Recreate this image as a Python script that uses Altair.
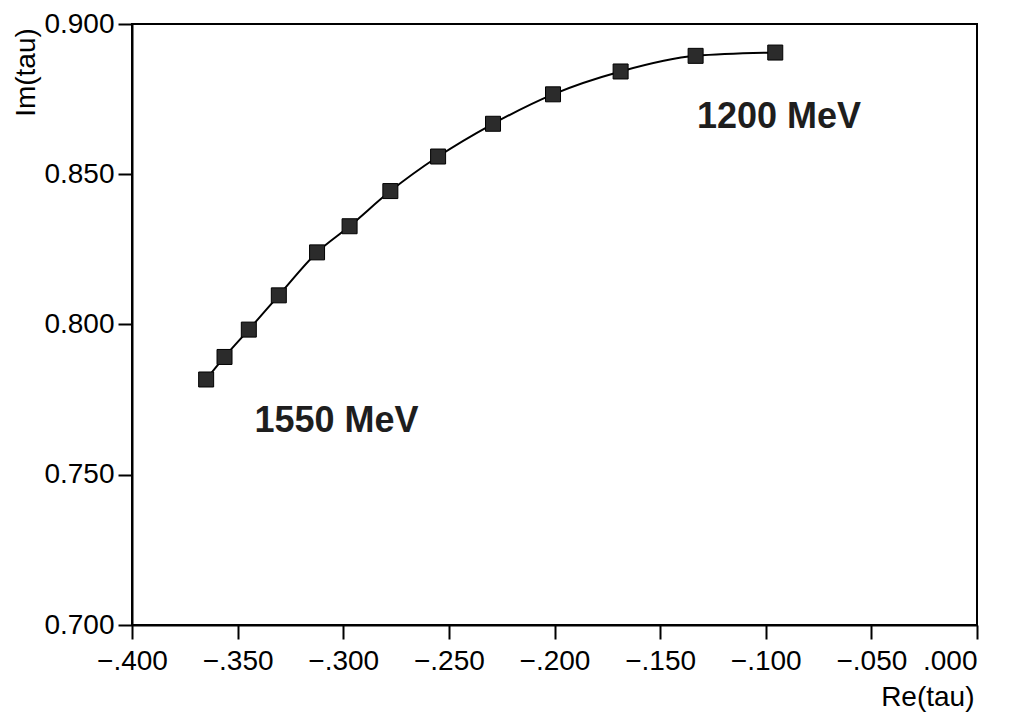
import altair as alt
import pandas as pd

# Data
re_tau = [-0.3649, -0.3562, -0.3447, -0.3305, -0.3124, -0.2970, -0.2777,
          -0.2551, -0.2291, -0.2007, -0.1687, -0.1332, -0.0955]
im_tau = [0.7817, 0.7892, 0.7983, 0.8097, 0.8240, 0.8327, 0.8444,
          0.8559, 0.8668, 0.8766, 0.8842, 0.8894, 0.8905]

label_text = ["1550 MeV", "1200 MeV"]
label_re = [-0.342, -0.1326]
label_im = [0.7678, 0.8692]

x_ticks = [-0.40, -0.35, -0.30, -0.25, -0.20, -0.15, -0.10, -0.05, 0.0]
x_tick_labels = ["\u2212.400", "\u2212.350", "\u2212.300", "\u2212.250", "\u2212.200",
                 "\u2212.150", "\u2212.100", "\u2212.050", ".000"]
y_ticks = [0.70, 0.75, 0.80, 0.85, 0.90]
y_tick_labels = ["0.700", "0.750", "0.800", "0.850", "0.900"]


def label_expr(values, labels):
    expr = "''"
    for v, l in reversed(list(zip(values, labels))):
        expr = f"abs(datum.value - ({v})) < 1e-6 ? '{l}' : ({expr})"
    return expr


df = pd.DataFrame({"re": re_tau, "im": im_tau})
lab = pd.DataFrame({"t": label_text, "re": label_re, "im": label_im})

FONT = "Liberation Sans"

x_enc = alt.X(
    "re:Q",
    scale=alt.Scale(domain=[-0.4, 0.0], nice=False, zero=False),
    axis=alt.Axis(
        values=x_ticks, labelExpr=label_expr(x_ticks, x_tick_labels),
        labelAlign={"condition": {"test": "abs(datum.value) < 1e-6", "value": "right"},
                    "value": "center"},
        labelPadding=8, labelOverlap=False, labelBound=False, labelFlush=False,
        title="Re(tau)", titleAlign="right", titleBaseline="middle",
        titleX=842, titleY=72, titleAngle=0,
    ),
)
y_enc = alt.Y(
    "im:Q",
    scale=alt.Scale(domain=[0.7, 0.9], nice=False, zero=False),
    axis=alt.Axis(
        values=y_ticks, labelExpr=label_expr(y_ticks, y_tick_labels),
        labelPadding=4, labelOverlap=False, labelBound=False, labelFlush=False,
        title="Im(tau)", titleAngle=270, titleAlign="center", titleBaseline="middle",
        titleX=-106, titleY=48,
    ),
)

line = alt.Chart(df).mark_line(color="black", strokeWidth=2, interpolate="monotone").encode(
    x=x_enc, y=y_enc
)
pts = alt.Chart(df).mark_square(
    size=225, filled=True, color="#2b2b2b", stroke="black", strokeWidth=1, opacity=1
).encode(x="re:Q", y="im:Q")

texts = alt.Chart(lab).mark_text(
    align="left", baseline="middle", font=FONT, fontSize=36, fontWeight="bold", color="#1e1e1e"
).encode(x="re:Q", y="im:Q", text="t:N")

chart = (
    alt.layer(line, pts, texts)
    .properties(
        width=845, height=601,
        autosize=alt.AutoSizeParams(type="none"),
        padding={"left": 124, "top": 16, "right": 24, "bottom": 87},
    )
    .configure_view(stroke="black", strokeWidth=2)
    .configure_axis(
        grid=False,
        domainColor="black", domainWidth=2,
        tickColor="black", tickWidth=2, tickSize=14,
        labelFont=FONT, labelFontSize=28, labelColor="black",
        titleFont=FONT, titleFontSize=28, titleColor="black", titleFontWeight="normal",
    )
)

chart.save("out.html", embed_options={"renderer": "svg", "actions": False})
